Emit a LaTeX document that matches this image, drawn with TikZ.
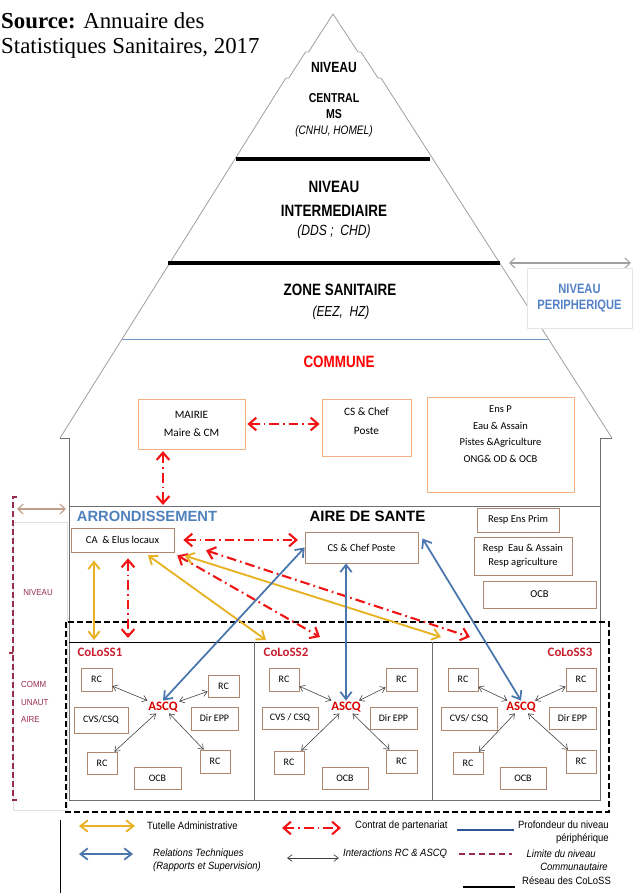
\documentclass[tikz,border=0pt]{standalone}
\usepackage{fontspec}
\setmainfont{Liberation Sans}
\newfontfamily\narrowfont[FakeStretch=0.82]{Liberation Sans}
\newfontfamily\legfont[FakeStretch=0.9]{Liberation Sans}
\newfontfamily\calibfont{Carlito}
\newfontfamily\srcfont{Liberation Serif}
\usetikzlibrary{arrows.meta}

\definecolor{tutyellow}{RGB}{231,178,36}
\definecolor{techblue}{RGB}{74,118,173}
\definecolor{contratred}{RGB}{240,20,20}
\definecolor{colossred}{RGB}{200,30,45}
\definecolor{arrblue}{RGB}{79,129,189}
\definecolor{peripblue}{RGB}{84,130,200}
\definecolor{limmaroon}{RGB}{150,45,75}
\definecolor{profblue}{RGB}{47,85,151}
\definecolor{boxorange}{RGB}{244,177,131}
\definecolor{boxbrown}{RGB}{175,135,110}
\definecolor{wallgray}{RGB}{110,110,110}
\definecolor{pyrgray}{RGB}{160,160,160}

\newcommand{\fs}[2]{\fontsize{#1}{#2}\selectfont}
\newcommand{\px}{0.3mm}

\begin{document}
\begin{tikzpicture}[x=0.3mm, y=-0.3mm,
    lvl/.style={font=\narrowfont\bfseries\fs{#1}{#1}, inner sep=1pt},
    lvlit/.style={font=\narrowfont\itshape\fs{#1}{#1}, inner sep=1pt},
    topbox/.style={draw=boxorange, line width=0.6pt, fill=white, align=center, inner sep=0pt, font=\calibfont\fs{9.6}{16}},
    boxtxt/.style={align=center, inner sep=0pt},
    box/.style={draw=boxbrown, line width=0.6pt, fill=white, align=center, inner sep=0pt, font=\calibfont\fs{9}{12.2}},
    rcbox/.style={box, font=\calibfont\fs{8.5}{10}},
    coloss/.style={font=\calibfont\bfseries\fs{11}{13}, text=colossred, inner sep=0pt},
    ascq/.style={font=\calibfont\bfseries\fs{11}{13}, text=red!85!black, inner sep=1pt},
    tut/.style={draw=tutyellow, line width=1.6pt, {Straight Barb[length=2.2mm,width=3.4mm]}-{Straight Barb[length=2.2mm,width=3.4mm]}},
    tech/.style={draw=techblue, line width=1.5pt, {Straight Barb[length=2.2mm,width=3.4mm]}-{Straight Barb[length=2.2mm,width=3.4mm]}},
    contrat/.style={draw=contratred, line width=1.8pt, dash pattern=on 2.9mm off 1.2mm on 0.5mm off 1.2mm, {Straight Barb[length=2.2mm,width=3.8mm]}-{Straight Barb[length=2.2mm,width=3.8mm]}},
    inter/.style={draw=black!75, line width=0.5pt, {Straight Barb[length=1.4mm,width=2mm]}-{Straight Barb[length=1.4mm,width=2mm]}},
    legtxt/.style={font=\legfont\fs{9}{11}, inner sep=0pt},
    legit/.style={font=\legfont\itshape\fs{9}{11}, inner sep=0pt}]

\useasboundingbox (0,0) rectangle (632,893);

\node[font=\srcfont\fs{19.5}{21.5}, align=left, anchor=north west, inner sep=0pt] (src) at (1,12) {\textbf{Source:} Annuaire des\\Statistiques Sanitaires, 2017};

\draw[pyrgray, line width=0.7pt] (60,438) -- (285.8,78) -- (288.8,78) -- (305.5,52) -- (308.5,52) -- (333,14)
    -- (358,52) -- (361,52) -- (378,78) -- (381,78) -- (612,438);
\draw[wallgray, line width=0.7pt] (60,438) -- (69,438) -- (69,800) -- (600,800) -- (600,438) -- (612,438);
\draw[arrblue!80, line width=0.7pt] (122,339) -- (548,339);
\draw[line width=1.2mm] (236,159) -- (430,159);
\draw[line width=1.2mm] (168,263) -- (500,263);

\node[lvl=12.6] (niv1) at (334,67) {NIVEAU};
\node[lvl=11] (central) at (334,98) {CENTRAL};
\node[lvl=11] (ms) at (334,114) {MS};
\node[lvlit=10.5] (cnhu) at (334,131) {(CNHU, HOMEL)};
\node[lvl=14] (niv2) at (334,187) {NIVEAU};
\node[lvl=14] (inter) at (334,211) {INTERMEDIAIRE};
\node[lvlit=12.6] (dds) at (334,232) {(DDS ;\ \ CHD)};
\node[lvl=14] (zone) at (340,290) {ZONE SANITAIRE};
\node[lvlit=12.4] (eez) at (341,313) {(EEZ,\ \ HZ)};

\coordinate (periL) at (509,263);
\coordinate (periR) at (631,263);
\draw[gray!75, line width=0.9pt, {Straight Barb[length=1.6mm,width=3mm]}-{Straight Barb[length=1.6mm,width=3mm]}] (periL) -- (periR);
\node[draw=gray!20, fill=white, minimum width=105*\px, minimum height=60*\px, align=center, inner sep=0pt,
    font=\narrowfont\bfseries\fs{11.6}{13.5}, text=peripblue] (perip) at (579.5,298) {NIVEAU\\PERIPHERIQUE};

\node[lvl=14, text=red] (commune) at (339,362) {COMMUNE};
\node[topbox, minimum width=107*\px, minimum height=50*\px] (mairie) at (191.5,424) {MAIRIE\\Maire \& CM};
\node[topbox, minimum width=89*\px, minimum height=57*\px,
    label={[boxtxt, font=\calibfont\fs{9.6}{16}, yshift=1.8mm]center:CS \& Chef\\Poste}] (cscom) at (366.5,427.5) {};
\node[topbox, minimum width=147*\px, minimum height=95*\px,
    label={[boxtxt, font=\calibfont\fs{9}{14.2}, yshift=3.1mm]center:Ens P\\Eau \& Assain\\Pistes \&Agriculture\\ONG\& OD \& OCB}] (ensp) at (500.5,444.5) {};

\draw[wallgray, line width=0.7pt] (69,506) -- (600,506);
\draw[line width=0.7pt] (69,642) -- (600,642);
\draw[wallgray, line width=0.7pt] (254,642) -- (254,800) (432,642) -- (432,800);
\draw[line width=1.2pt, dash pattern=on 1.8mm off 0.9mm] (66,622) rectangle (609,812);

\draw[gray!25] (13,522) rectangle (67,810);
\draw[limmaroon, line width=1.1pt, dash pattern=on 1.8mm off 0.9mm] (17,497) -- (13,497) -- (13,800) -- (17,800) (13,653) -- (9,653);
\coordinate (ncL) at (17,509);
\coordinate (ncR) at (66,509);
\draw[boxbrown!80, line width=1pt, {Straight Barb[length=1.6mm,width=3mm]}-{Straight Barb[length=1.6mm,width=3mm]}] (ncL) -- (ncR);
\node[font=\legfont\fs{7.5}{15}, text=limmaroon, inner sep=0pt] (nivc) at (38,593) {NIVEAU};
\node[font=\legfont\fs{7.5}{15}, text=limmaroon, align=left, anchor=west, inner sep=0pt] (commc) at (21,702) {COMM\\UNAUT\\AIRE};

\node[font=\bfseries\fs{12.6}{14}, text=arrblue, inner sep=1pt] (arrond) at (147,516) {ARRONDISSEMENT};
\node[font=\bfseries\fs{12.8}{14}, inner sep=1pt] (aire) at (367.5,516) {AIRE DE SANTE};
\node[box, minimum width=103*\px, minimum height=24*\px] (ca) at (122.5,540) {CA\ \ \& Elus locaux};
\node[box, minimum width=113*\px, minimum height=31*\px] (csas) at (361.5,547.5) {CS \& Chef Poste};
\node[box, minimum width=82*\px, minimum height=24*\px] (respens) at (518,520) {Resp Ens Prim};
\node[box, minimum width=98*\px, minimum height=38*\px] (respeau) at (523,556) {Resp\ \ Eau \& Assain\\Resp agriculture};
\node[box, minimum width=113*\px, minimum height=27*\px] (ocbas) at (539.5,594.5) {OCB};

\node[coloss] (col1) at (100,652) {CoLoSS1};
\node[rcbox, minimum width=31*\px, minimum height=23*\px] (rc1a) at (96.5,679.5) {RC};
\node[rcbox, minimum width=31*\px, minimum height=22*\px] (rc1b) at (223.5,686) {RC};
\node[ascq] (ascq1) at (163,707) {ASCQ};
\node[rcbox, minimum width=54*\px, minimum height=26*\px] (cvs1) at (101,720) {CVS/CSQ};
\node[rcbox, minimum width=47*\px, minimum height=23*\px] (dir1) at (214.5,718.5) {Dir EPP};
\node[rcbox, minimum width=30*\px, minimum height=22*\px] (rc1c) at (102,763) {RC};
\node[rcbox, minimum width=30*\px, minimum height=23*\px] (rc1d) at (215,761.5) {RC};
\node[rcbox, minimum width=47*\px, minimum height=22*\px] (ocb1) at (157.5,778) {OCB};

\node[coloss] (col2) at (286,652) {CoLoSS2};
\node[rcbox, minimum width=30*\px, minimum height=23*\px] (rc2a) at (284,679.5) {RC};
\node[rcbox, minimum width=31*\px, minimum height=23*\px] (rc2b) at (401.5,679.5) {RC};
\node[ascq] (ascq2) at (346,707) {ASCQ};
\node[rcbox, minimum width=56*\px, minimum height=22*\px] (cvs2) at (290,718) {CVS / CSQ};
\node[rcbox, minimum width=47*\px, minimum height=22*\px] (dir2) at (393.5,718) {Dir EPP};
\node[rcbox, minimum width=30*\px, minimum height=23*\px] (rc2c) at (289,762.5) {RC};
\node[rcbox, minimum width=31*\px, minimum height=23*\px] (rc2d) at (401.5,761.5) {RC};
\node[rcbox, minimum width=46*\px, minimum height=22*\px] (ocb2) at (345,778) {OCB};

\node[coloss] (col3) at (570,652) {CoLoSS3};
\node[rcbox, minimum width=30*\px, minimum height=23*\px] (rc3a) at (463,679.5) {RC};
\node[rcbox, minimum width=30*\px, minimum height=23*\px] (rc3b) at (581,679.5) {RC};
\node[ascq] (ascq3) at (521,707) {ASCQ};
\node[rcbox, minimum width=56*\px, minimum height=23*\px] (cvs3) at (469,718.5) {CVS/ CSQ};
\node[rcbox, minimum width=47*\px, minimum height=22*\px] (dir3) at (572.5,718) {Dir EPP};
\node[rcbox, minimum width=30*\px, minimum height=22*\px] (rc3c) at (468,763) {RC};
\node[rcbox, minimum width=30*\px, minimum height=23*\px] (rc3d) at (581,761.5) {RC};
\node[rcbox, minimum width=46*\px, minimum height=22*\px] (ocb3) at (523,778) {OCB};

\draw[inter] (rc1a) -- (ascq1);
\draw[inter] (rc1b) -- (ascq1);
\draw[inter] (rc1c) -- (ascq1);
\draw[inter] (rc1d) -- (ascq1);
\draw[inter] (rc2a) -- (ascq2);
\draw[inter] (rc2b) -- (ascq2);
\draw[inter] (rc2c) -- (ascq2);
\draw[inter] (rc2d) -- (ascq2);
\draw[inter] (rc3a) -- (ascq3);
\draw[inter] (rc3b) -- (ascq3);
\draw[inter] (rc3c) -- (ascq3);
\draw[inter] (rc3d) -- (ascq3);

\coordinate (mairieArr) at (163,505);
\coordinate (tutA) at (94,640);
\coordinate (conA) at (128,638);
\coordinate (tutB) at (266,640);
\coordinate (conB) at (320,637);
\coordinate (tutC) at (441,637);
\coordinate (conC) at (470,637);

\draw[contrat, shorten <=0.6mm, shorten >=0.6mm] (mairie.east) -- (mairie.east -| cscom.west);
\draw[contrat, shorten <=0.5mm] (mairieArr |- mairie.south) -- (mairieArr);
\draw[contrat, shorten <=2.7mm, shorten >=2mm] (ca.east) -- (ca.east -| csas.west);
\draw[tut, shorten <=2.4mm] (tutA |- ca.south) -- (tutA);
\draw[contrat, shorten <=1.8mm] (conA |- ca.south) -- (conA);
\draw[tut, shorten <=1.5mm] (ca.-30) -- (tutB);
\draw[contrat, shorten <=1.8mm] (ca.-14) -- (conB);
\draw[tut, shorten <=3.3mm] (ca.south east) -- (tutC);
\draw[contrat, shorten <=10mm] (ca.east) -- (conC);

\draw[tech] (ascq1.north) -- (csas.west);
\draw[tech] (ascq2.north) -- (ascq2.north |- csas.south);
\draw[tech, shorten >=2.4mm] (ascq3.north) -- (csas.north east);

\draw[line width=0.7pt] (60,820) -- (60,893);
\coordinate (lgTa) at (79,826);
\coordinate (lgTb) at (135,826);
\draw[tut] (lgTa) -- (lgTb);
\node[legtxt, anchor=west] (lgT) at (147,826) {Tutelle Administrative};
\coordinate (lgCa) at (282,828);
\coordinate (lgCb) at (341,828);
\draw[contrat] (lgCa) -- (lgCb);
\node[legtxt, anchor=west] (lgC) at (355,826) {Contrat de partenariat};
\coordinate (lgPa) at (457,830);
\coordinate (lgPb) at (514,830);
\draw[profblue, line width=1.2pt] (lgPa) -- (lgPb);
\node[legtxt, align=right, anchor=north east] (lgP) at (609,821) {Profondeur du niveau\\périphérique};
\coordinate (lgRa) at (79,854);
\coordinate (lgRb) at (133,854);
\draw[tech] (lgRa) -- (lgRb);
\node[legit, align=left, anchor=north west] (lgR) at (153,849) {Relations Techniques\\(Rapports et Supervision)};
\coordinate (lgIa) at (287,858);
\coordinate (lgIb) at (339,858);
\draw[inter, line width=0.6pt] (lgIa) -- (lgIb);
\node[legit, anchor=west] (lgI) at (343,854) {Interactions RC \& ASCQ};
\coordinate (lgLa) at (459,854);
\coordinate (lgLb) at (512,854);
\draw[limmaroon, line width=1.2pt, dash pattern=on 1.8mm off 1.2mm] (lgLa) -- (lgLb);
\node[legit, align=right, anchor=north east] (lgL) at (608,850) {Limite du niveau\hspace*{3.6mm}\\Communautaire};
\coordinate (lgNa) at (463,887);
\coordinate (lgNb) at (515,887);
\draw[line width=1.2pt] (lgNa) -- (lgNb);
\node[legtxt, anchor=west] (lgN) at (522,881) {Réseau des CoLoSS};

\end{tikzpicture}
\end{document}
